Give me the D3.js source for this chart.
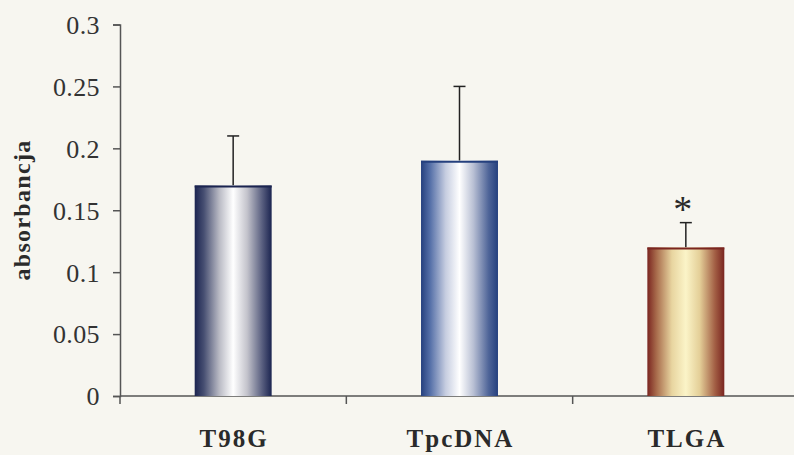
<!DOCTYPE html>
<html>
<head>
<meta charset="utf-8">
<script src="https://cdn.jsdelivr.net/npm/d3@7"></script>
<style>
  html, body { margin: 0; padding: 0; background: #f7f6f0; }
  svg { display: block; }
  .tick text { font-family: "Liberation Serif", "Times New Roman", serif; }
</style>
</head>
<body>
<script>
var categories = ["T98G", "TpcDNA", "TLGA"];
var values = [0.17, 0.19, 0.12];
var errors = [0.04, 0.06, 0.02];
var significant = [false, false, true];
var yTicks = [0, 0.05, 0.1, 0.15, 0.2, 0.25, 0.3];
var yTickLabels = ["0", "0.05", "0.1", "0.15", "0.2", "0.25", "0.3"];

// colour stops for each bar, edge -> centre -> edge
var gradients = [
  ["#1b2450", "#474f72", "#b9bac4", "#ffffff", "#c4c4cc", "#575d7e", "#1b2450"],
  ["#25407e", "#5670a8", "#c6cde0", "#ffffff", "#b9c0d4", "#4e6498", "#25407e"],
  ["#7a2520", "#a86c4c", "#e8d5a0", "#fbf4c8", "#e4cf98", "#a25e44", "#7a2520"]
];

var W = 794, H = 455;
var margin = { top: 24.5, right: -5, bottom: 59, left: 120 },
    width = W - margin.left - margin.right,
    height = H - margin.top - margin.bottom;

var svg = d3.select("body").append("svg")
  .attr("width", W)
  .attr("height", H);

var defs = svg.append("defs");
gradients.forEach(function(cols, i) {
  var g = defs.append("linearGradient")
    .attr("id", "grad" + i)
    .attr("x1", "0%").attr("x2", "100%")
    .attr("y1", "0%").attr("y2", "0%");
  var offs = [0, 0.12, 0.32, 0.5, 0.68, 0.88, 1];
  cols.forEach(function(c, j) {
    g.append("stop").attr("offset", offs[j]).attr("stop-color", c);
  });
});

var g = svg.append("g")
  .attr("transform", "translate(" + margin.left + "," + margin.top + ")");

var x = d3.scaleBand()
  .domain(categories)
  .range([0, width])
  .padding(0);

var y = d3.scaleLinear()
  .domain([0, 0.3])
  .range([height, 0]);

var barW = x.bandwidth() * 0.34;

// y axis
var yAxis = d3.axisLeft(y)
  .tickValues(yTicks)
  .tickSize(7)
  .tickPadding(13)
  .tickFormat(function(d, i) { return yTickLabels[i]; });

var ya = g.append("g").attr("class", "y axis").call(yAxis);
ya.select(".domain").attr("stroke", "#555").attr("stroke-width", 1.5);
ya.selectAll(".tick line").attr("stroke", "#555").attr("stroke-width", 1.5);
ya.selectAll(".tick text")
  .attr("fill", "#333")
  .style("font-size", "26px")
  .style("letter-spacing", "0.4px")
  .attr("dy", "0.34em");

// x axis line and category boundary ticks
g.append("line")
  .attr("x1", 0).attr("x2", width)
  .attr("y1", height).attr("y2", height)
  .attr("stroke", "#555").attr("stroke-width", 1.5);

var bounds = categories.map(function(c) { return x(c); }).concat([x.range()[1]]);
g.selectAll(".xtick")
  .data(bounds)
  .enter().append("line")
  .attr("class", "xtick")
  .attr("x1", function(d) { return d; })
  .attr("x2", function(d) { return d; })
  .attr("y1", height)
  .attr("y2", height + 8)
  .attr("stroke", "#555").attr("stroke-width", 1.5);

g.selectAll(".xlabel")
  .data(categories)
  .enter().append("text")
  .attr("class", "xlabel")
  .attr("x", function(d) { return x(d) + x.bandwidth() / 2 + 1; })
  .attr("y", height + 51)
  .attr("text-anchor", "middle")
  .attr("fill", "#2a2a2a")
  .style("font-family", "'Liberation Serif', 'Times New Roman', serif")
  .style("font-weight", "bold")
  .style("font-size", "25px")
  .style("letter-spacing", "2px")
  .text(function(d) { return d; });

// error bars
var err = g.selectAll(".err")
  .data(categories)
  .enter().append("g")
  .attr("class", "err")
  .attr("stroke", "#222")
  .attr("stroke-width", 1.5);

err.append("line")
  .attr("x1", function(d) { return x(d) + x.bandwidth() / 2; })
  .attr("x2", function(d) { return x(d) + x.bandwidth() / 2; })
  .attr("y1", function(d, i) { return y(values[i]); })
  .attr("y2", function(d, i) { return y(values[i] + errors[i]); });

err.append("line")
  .attr("x1", function(d) { return x(d) + x.bandwidth() / 2 - 6; })
  .attr("x2", function(d) { return x(d) + x.bandwidth() / 2 + 6; })
  .attr("y1", function(d, i) { return y(values[i] + errors[i]); })
  .attr("y2", function(d, i) { return y(values[i] + errors[i]); });

// bars
g.selectAll(".bar")
  .data(categories)
  .enter().append("rect")
  .attr("class", "bar")
  .attr("x", function(d) { return x(d) + (x.bandwidth() - barW) / 2; })
  .attr("width", barW)
  .attr("y", function(d, i) { return y(values[i]); })
  .attr("height", function(d, i) { return height - y(values[i]); })
  .attr("fill", function(d, i) { return "url(#grad" + i + ")"; });

g.selectAll(".bartop")
  .data(categories)
  .enter().append("line")
  .attr("class", "bartop")
  .attr("x1", function(d) { return x(d) + (x.bandwidth() - barW) / 2; })
  .attr("x2", function(d) { return x(d) + (x.bandwidth() + barW) / 2; })
  .attr("y1", function(d, i) { return y(values[i]) + 1; })
  .attr("y2", function(d, i) { return y(values[i]) + 1; })
  .attr("stroke", function(d, i) { return gradients[i][0]; })
  .attr("stroke-width", 2);

// significance marker
g.selectAll(".star")
  .data(categories.filter(function(d, i) { return significant[i]; }))
  .enter().append("text")
  .attr("class", "star")
  .attr("x", function(d) { return x(d) + x.bandwidth() / 2 - 3; })
  .attr("y", function(d) {
    var i = categories.indexOf(d);
    return y(values[i] + errors[i]) - 1;
  })
  .attr("text-anchor", "middle")
  .attr("fill", "#2a2a2a")
  .style("font-family", "'Liberation Serif', 'Times New Roman', serif")
  .style("font-size", "38px")
  .text("*");

// y label
svg.append("text")
  .attr("transform", "translate(30," + 210 + ") rotate(-90)")
  .attr("text-anchor", "middle")
  .attr("fill", "#2a2a2a")
  .style("font-family", "'Liberation Serif', 'Times New Roman', serif")
  .style("font-weight", "bold")
  .style("font-size", "24px")
  .style("letter-spacing", "1.3px")
  .text("absorbancja");
</script>
</body>
</html>
